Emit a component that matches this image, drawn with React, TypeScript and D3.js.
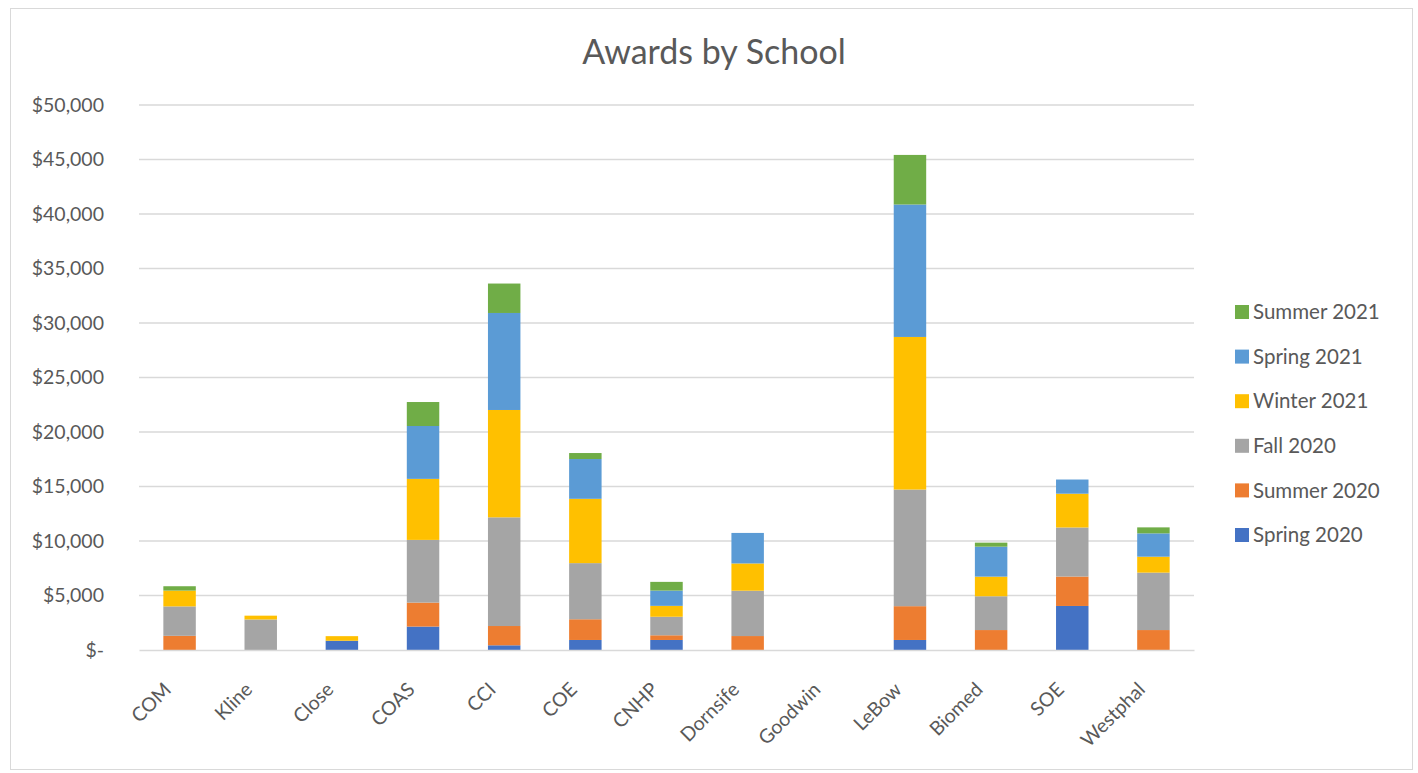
import * as d3 from 'd3';
import * as React from 'react';

const { useRef, useEffect } = React;

const width = 1418;
const height = 773;
const margin = { top: 105, right: 224, bottom: 123, left: 139 };

const schools = [
  'COM', 'Kline', 'Close', 'COAS', 'CCI', 'COE', 'CNHP',
  'Dornsife', 'Goodwin', 'LeBow', 'Biomed', 'SOE', 'Westphal',
];

const terms = [
  'Spring 2020', 'Summer 2020', 'Fall 2020',
  'Winter 2021', 'Spring 2021', 'Summer 2021',
];

const termColors = ['#4472C4', '#ED7D31', '#A5A5A5', '#FFC000', '#5B9BD5', '#70AD47'];

// values in dollars, one entry per school (same order as `schools`)
const spring2020 = [0, 0, 850, 2150, 430, 920, 920, 0, 0, 920, 0, 4040, 0];
const summer2020 = [1300, 0, 0, 2200, 1770, 1900, 430, 1280, 0, 3100, 1830, 2700, 1830];
const fall2020 = [2700, 2800, 0, 5750, 9970, 5150, 1700, 4160, 0, 10700, 3100, 4500, 5270];
const winter2021 = [1450, 350, 420, 5600, 9850, 5900, 1000, 2500, 0, 14000, 1800, 3100, 1460];
const spring2021 = [0, 0, 0, 4850, 8900, 3650, 1400, 2800, 0, 12150, 2750, 1300, 2140];
const summer2021 = [400, 0, 0, 2200, 2700, 550, 800, 0, 0, 4550, 370, 0, 550];

const yTicks = [0, 5000, 10000, 15000, 20000, 25000, 30000, 35000, 40000, 45000, 50000];

const font = 'Lato, "Open Sans", sans-serif';
const textColor = '#595959';

export default () => {
  const rootRef = useRef<SVGSVGElement>(null);

  useEffect(() => {
    const svg = d3.select(rootRef.current);
    svg.selectAll('*').remove();

    const series = [spring2020, summer2020, fall2020, winter2021, spring2021, summer2021];
    const rows = schools.map((s, i) => {
      const row: any = { school: s };
      terms.forEach((t, j) => (row[t] = series[j][i]));
      return row;
    });
    const stack = d3.stack<any>().keys(terms)(rows);

    const x = d3
      .scaleBand()
      .domain(schools)
      .range([margin.left, width - margin.right])
      .paddingInner(0.6)
      .paddingOuter(0.3);

    const y = d3
      .scaleLinear()
      .domain([0, 50000])
      .range([height - margin.bottom, margin.top]);

    const color = d3.scaleOrdinal<string>().domain(terms).range(termColors);

    svg
      .append('rect')
      .attr('x', 10.5)
      .attr('y', 8.5)
      .attr('width', width - 16)
      .attr('height', height - 12)
      .attr('fill', '#fff')
      .attr('stroke', '#d9d9d9');

    svg
      .append('text')
      .attr('x', 714)
      .attr('y', 64)
      .attr('text-anchor', 'middle')
      .attr('font-family', font)
      .attr('font-size', 34)
      .attr('fill', textColor)
      .text('Awards by School');

    const grid = svg.append('g');
    grid
      .selectAll('line')
      .data(yTicks.filter(d => d > 0))
      .join('line')
      .attr('x1', margin.left)
      .attr('x2', width - margin.right)
      .attr('y1', d => y(d))
      .attr('y2', d => y(d))
      .attr('stroke', '#d9d9d9')
      .attr('stroke-width', 1.3);

    const fmt = d3.format(',');
    const yAxis = svg
      .append('g')
      .attr('transform', `translate(${margin.left},0)`)
      .call(
        d3
          .axisLeft(y)
          .tickValues(yTicks)
          .tickSize(0)
          .tickPadding(35)
          .tickFormat(d => (+d === 0 ? '$-' : `$${fmt(+d)}`)),
      );
    yAxis.select('.domain').remove();
    yAxis
      .selectAll('text')
      .attr('font-family', font)
      .attr('font-size', 19.5)
      .attr('fill', textColor);

    svg
      .append('g')
      .selectAll('g')
      .data(stack)
      .join('g')
      .attr('fill', d => color(d.key))
      .selectAll('rect')
      .data(d => d)
      .join('rect')
      .attr('x', d => x(d.data.school) as number)
      .attr('width', x.bandwidth())
      .attr('y', d => y(d[1]))
      .attr('height', d => y(d[0]) - y(d[1]));

    const xAxis = svg
      .append('g')
      .attr('transform', `translate(0,${y(0)})`)
      .call(d3.axisBottom(x).tickSize(0).tickPadding(0));
    xAxis.select('.domain').attr('stroke', '#d9d9d9').attr('stroke-width', 1.3);
    xAxis
      .selectAll('text')
      .attr('font-family', font)
      .attr('font-size', 19.5)
      .attr('fill', textColor)
      .attr('text-anchor', 'end')
      .attr('y', 0)
      .attr('dy', '0.35em')
      .attr('transform', 'translate(-12,36) rotate(-45)');

    const legend = svg
      .append('g')
      .selectAll('g')
      .data(terms.slice().reverse())
      .join('g')
      .attr('transform', (d, i) => `translate(1235,${312 + i * 44.6})`);
    legend
      .append('rect')
      .attr('x', 0)
      .attr('y', -7)
      .attr('width', 14)
      .attr('height', 14)
      .attr('fill', d => color(d));
    legend
      .append('text')
      .attr('x', 18)
      .attr('dy', '0.35em')
      .attr('font-family', font)
      .attr('font-size', 20.5)
      .attr('fill', textColor)
      .text(d => d);
  }, []);

  return (
    <div style={{ position: 'fixed', left: 0, top: 0 }}>
      <svg ref={rootRef} width={width} height={height} style={{ display: 'block' }} />
    </div>
  );
};
